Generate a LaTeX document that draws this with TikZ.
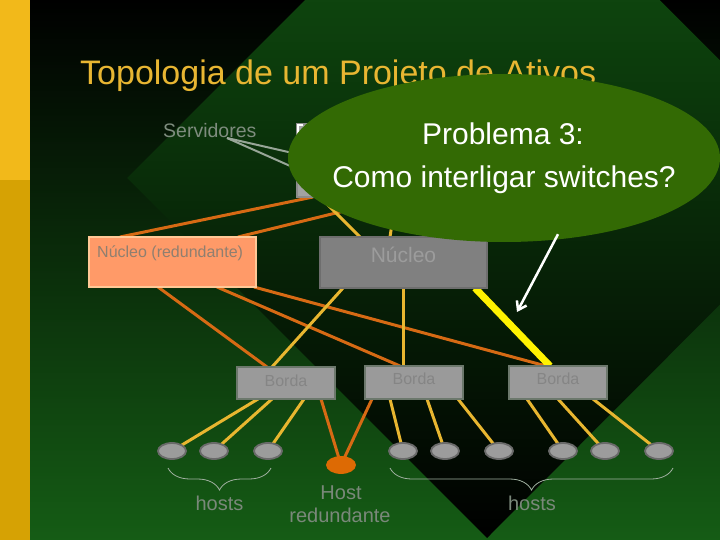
\documentclass[tikz,border=0pt]{standalone}
\usepackage{fontspec}
\setmainfont{Liberation Sans}
\usetikzlibrary{arrows.meta,decorations.pathreplacing,shapes.geometric,calc}
\pgfdeclarelayer{backdrop}
\pgfdeclarelayer{links}
\pgfdeclarelayer{top}
\pgfsetlayers{backdrop,links,main,top}
\definecolor{stripA}{HTML}{F2B91A}
\definecolor{stripB}{HTML}{D6A204}
\definecolor{bgmid}{HTML}{0A3808}
\definecolor{bgbot}{HTML}{155C15}
\definecolor{dtop}{HTML}{125A12}
\definecolor{dmid}{HTML}{0C4408}
\definecolor{titlecol}{HTML}{E8B632}
\definecolor{balloon}{HTML}{336A04}
\definecolor{orangeln}{HTML}{D66A14}
\definecolor{yellowln}{HTML}{E8B630}
\definecolor{salmon}{HTML}{FF9A68}
\definecolor{salmonbd}{HTML}{FFC896}
\definecolor{nucfill}{HTML}{808080}
\definecolor{nucbd}{HTML}{6E6E6E}
\definecolor{bordafill}{HTML}{9A9A9A}
\definecolor{bordabd}{HTML}{6C786C}
\definecolor{hostfill}{HTML}{9C9C9C}
\definecolor{hostbd}{HTML}{6A6A6A}
\definecolor{hostred}{HTML}{DD6A04}
\definecolor{lblcol}{HTML}{7A887A}
\definecolor{servtxt}{HTML}{7E8C7E}
\definecolor{nredtxt}{HTML}{8F7F70}
\definecolor{nuctxt}{HTML}{9C9C9C}
\definecolor{bordatxt}{HTML}{858585}
\definecolor{bracecol}{HTML}{A0B0A0}
\definecolor{srvcol}{HTML}{98A698}
\definecolor{srvfill}{HTML}{A2A2A2}
\definecolor{srvbd}{HTML}{8C8C8C}
\begin{document}
\begin{tikzpicture}[x=1pt,y=-1pt,
  box/.style={draw, line width=2pt, inner sep=0pt, outer sep=0pt, anchor=north west},
  host/.style={ellipse, fill=hostfill, draw=hostbd, line width=1.8pt, minimum width=28pt, minimum height=16pt, inner sep=0pt, outer sep=0pt},
  ylink/.style={draw=yellowln, line width=3pt},
  olink/.style={draw=orangeln, line width=3pt},
  hlink/.style={draw=yellow, line width=7pt},
  srvln/.style={draw=srvcol, line width=2pt},
  lbltxt/.style={text=lblcol, font=\fontsize{20}{24}\selectfont, inner sep=0pt, anchor=base},
  bordalbl/.style={text=bordatxt, font=\fontsize{16}{19}\selectfont, inner sep=0pt, anchor=base},
  bracestyle/.style={draw=bracecol, line width=0.8pt, decorate, decoration={brace, mirror, amplitude=22pt}}
]
\useasboundingbox (0,0) rectangle (720,540);
\begin{pgfonlayer}{backdrop}
\begin{scope}
\clip (0,0) rectangle (720,540);
\shade[top color=black, middle color=bgmid, bottom color=bgbot] (0,0) rectangle (720,540);
\shade[top color=dtop, middle color=dmid, bottom color=black] (127,178) -- (482,-177) -- (842,182) -- (487,538) -- cycle;
\fill[stripA] (0,0) rectangle (30,180);
\fill[stripB] (0,180) rectangle (30,540);
\end{scope}
\end{pgfonlayer}

% title and labels
\node[anchor=base west, inner sep=0pt, text=titlecol, font=\fontsize{34}{40}\selectfont] (title) at (80,85) {Topologia de um Projeto de Ativos};
\node[anchor=base west, inner sep=0pt, text=servtxt, font=\fontsize{19.5}{23}\selectfont] (servlbl) at (163,138) {Servidores};
\coordinate (sv) at (227,138);

% boxes
\node[box, draw=srvbd, fill=srvfill, minimum width=143pt, minimum height=73pt] (srv) at (297,124) {};
\draw[white, line width=1.5pt] ([xshift=1pt,yshift=-10pt]srv.north west) |- ([xshift=6pt,yshift=-1pt]srv.north west);
\node[box, draw=salmonbd, fill=salmon, minimum width=167pt, minimum height=50pt] (nred) at (89,237) {};
\node[anchor=base west, inner sep=0pt, text=nredtxt, font=\fontsize{16}{19}\selectfont] (nredlbl) at ($(nred.north west)+(8,21)$) {Núcleo (redundante)};
\node[box, draw=nucbd, fill=nucfill, minimum width=167pt, minimum height=51pt] (nuc) at (320,237) {};
\node[anchor=base, inner sep=0pt, text=nuctxt, font=\fontsize{21}{25}\selectfont] (nuclbl) at ($(nuc.north)+(0,25)$) {Núcleo};
\node[box, draw=bordabd, fill=bordafill, minimum width=98pt, minimum height=32pt] (b1) at (237,367) {};
\node[box, draw=bordabd, fill=bordafill, minimum width=98pt, minimum height=33pt] (b2) at (365,366) {};
\node[box, draw=bordabd, fill=bordafill, minimum width=98pt, minimum height=33pt] (b3) at (509,366) {};
\node[bordalbl] (b1l) at ($(b1.north)+(0,19)$) {Borda};
\node[bordalbl] (b2l) at ($(b2.north)+(0,18)$) {Borda};
\node[bordalbl] (b3l) at ($(b3.north)+(0,18)$) {Borda};

% hosts
\node[host] (h1) at (172,451) {};
\node[host] (h2) at (214,451) {};
\node[host] (h3) at (268,451) {};
\node[host, fill=hostred, draw=hostred] (hr) at (341,465) {};
\node[host] (h4) at (403,451) {};
\node[host] (h5) at (445,451) {};
\node[host] (h6) at (499,451) {};
\node[host] (h7) at (563,451) {};
\node[host] (h8) at (605,451) {};
\node[host] (h9) at (659,451) {};

% braces and labels
\coordinate (brL1) at (168,468); \coordinate (brL2) at (271,468);
\coordinate (brR1) at (390,468); \coordinate (brR2) at (673,468);
\draw[bracestyle] (brL1) -- (brL2);
\draw[bracestyle] (brR1) -- (brR2);
\node[lbltxt] (hostsL) at (219.5,510) {hosts};
\node[lbltxt] (hostsR) at (532,510) {hosts};
\node[lbltxt] (hrl1) at (341,499) {Host};
\node[lbltxt] (hrl2) at (340,522) {redundante};

\begin{pgfonlayer}{links}
\draw[srvln] (sv) -- ([yshift=-30pt]srv.north west);
\draw[srvln] (sv) -- ([yshift=-45pt]srv.north west);
\draw[olink] ([xshift=16pt]srv.south west) -- ([xshift=31pt]nred.north west);
\draw[olink] ([xshift=104pt]srv.south west) -- ([xshift=149pt]nred.north west);
\draw[ylink] ([xshift=23pt]srv.south west) -- ([xshift=40pt]nuc.north west);
\draw[ylink] ([xshift=99pt]srv.south west) -- ([xshift=70pt]nuc.north west);
\draw[ylink] (srv.south east) -- ([xshift=112pt]nuc.north west);

\draw[olink] ([xshift=69pt]nred.south west) -- ([xshift=30pt]b1.north west);
\draw[olink] ([xshift=128pt]nred.south west) -- ([xshift=35pt]b2.north west);
\draw[olink] ([xshift=-2pt]nred.south east) -- ([xshift=37pt]b3.north west);
\draw[ylink] ([xshift=23pt]nuc.south west) -- ([xshift=35pt]b1.north west);
\draw[ylink] (nuc.south) -- (nuc.south |- b2.north);
\draw[hlink] ([xshift=-12pt]nuc.south east) -- ([xshift=41pt]b3.north west);

\draw[ylink] ([xshift=21pt]b1.south west) -- (h1);
\draw[ylink] ([xshift=35pt]b1.south west) -- (h2);
\draw[ylink] ([xshift=67pt]b1.south west) -- (h3);
\draw[olink] ([xshift=84pt]b1.south west) -- (hr);
\draw[olink] ([xshift=7pt]b2.south west) -- (hr);
\draw[ylink] ([xshift=25pt]b2.south west) -- (h4);
\draw[ylink] ([xshift=62pt]b2.south west) -- (h5);
\draw[ylink] ([xshift=93pt]b2.south west) -- (h6);
\draw[ylink] ([xshift=18pt]b3.south west) -- (h7);
\draw[ylink] ([xshift=49pt]b3.south west) -- (h8);
\draw[ylink] ([xshift=84pt]b3.south west) -- (h9);
\end{pgfonlayer}

\begin{pgfonlayer}{top}
\node[ellipse, fill=balloon, minimum width=432pt, minimum height=168pt, inner sep=0pt] (ball) at (504,158) {};
\node[anchor=base, text=white, font=\fontsize{30}{36}\selectfont, inner sep=0pt] (p3) at (503,145) {Problema 3:};
\node[anchor=base, text=white, font=\fontsize{30}{36}\selectfont, inner sep=0pt] (p3b) at (504,188) {Como interligar switches?};
\coordinate (atip) at (517,312);
\draw[white, line width=2.5pt, -{Straight Barb[length=8pt,width=11pt]}] ([xshift=54pt,yshift=8pt]ball.south) -- (atip);
\end{pgfonlayer}
\end{tikzpicture}
\end{document}
